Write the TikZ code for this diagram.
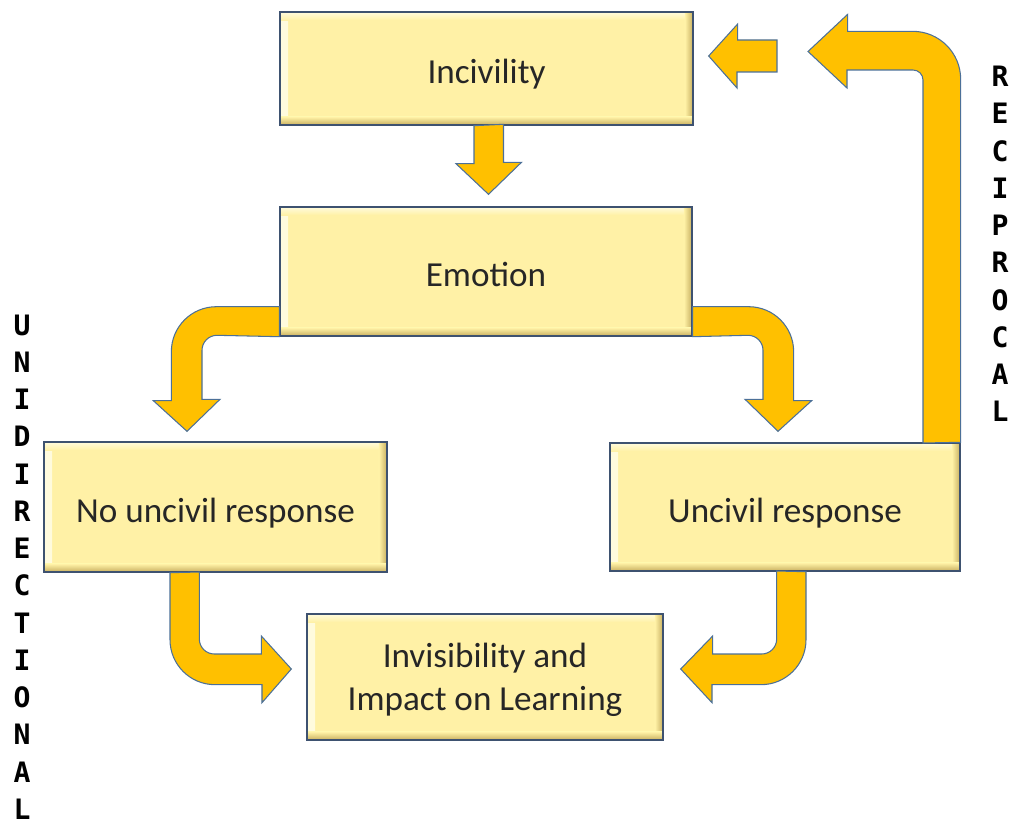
\documentclass[tikz,border=0pt]{standalone}
\usepackage{fontspec}
\setmainfont{Carlito}
\newfontfamily\letterfont{DejaVu Sans Mono}
\usetikzlibrary{calc}

\definecolor{boxfill}{RGB}{255,241,166}
\definecolor{boxlight}{RGB}{255,251,222}
\definecolor{boxdark}{RGB}{200,176,96}
\definecolor{boxedge}{RGB}{62,82,112}
\definecolor{arrowgold}{RGB}{255,192,0}
\definecolor{arrowedge}{RGB}{76,112,152}

\begin{document}
\begin{tikzpicture}[
    x=0.02cm, y=-0.02cm,
    stage/.style={rectangle, draw=boxedge, fill=boxfill, line width=0.8pt, inner sep=0pt,
        align=center, text=black!85, font=\fontsize{20}{24}\selectfont,
        text height=17.2pt, text depth=0pt,
        path picture={
            \shade[left color=boxlight, right color=boxfill] (path picture bounding box.north west) rectangle ($(path picture bounding box.south west)+(0.16cm,0)$);
            \shade[top color=boxlight, bottom color=boxfill] (path picture bounding box.north west) rectangle ($(path picture bounding box.north east)+(0,-0.16cm)$);
            \shade[left color=boxfill, right color=boxdark] ($(path picture bounding box.north east)+(-0.16cm,0)$) rectangle (path picture bounding box.south east);
            \shade[top color=boxfill, bottom color=boxdark] ($(path picture bounding box.south west)+(0,0.16cm)$) rectangle (path picture bounding box.south east);
        }},
    flow/.style={fill=arrowgold, draw=arrowedge, line width=0.6pt, line join=miter},
    sidelabel/.style={align=center, font=\letterfont\bfseries\fontsize{16}{21.2}\selectfont}
]
\useasboundingbox (0,0) rectangle (1017,834);

\node[stage, minimum width=8.26cm, minimum height=2.26cm] (inc) at (486.5,68.5) {Incivility};
\node[stage, minimum width=8.24cm, minimum height=2.58cm] (emo) at (486,271.5) {Emotion};
\node[stage, minimum width=6.86cm, minimum height=2.6cm] (noun) at (215.5,507) {No uncivil response};
\node[stage, minimum width=7.0cm, minimum height=2.56cm] (unciv) at (785,507) {Uncivil response};
\node[stage, minimum width=7.12cm, minimum height=2.52cm, text height=37.6pt] (invis) at (485,677) {Invisibility and\\Impact on Learning};

\node[sidelabel] (unidir) at (22,567) {U\\N\\I\\D\\I\\R\\E\\C\\T\\I\\O\\N\\A\\L};
\node[sidelabel] (recip) at (1000,244) {R\\E\\C\\I\\P\\R\\O\\C\\A\\L};

\coordinate (fb) at (777,40);

% straight down
\draw[flow] ($(inc.south)+(-12.5,0)$) -- ++(0,38) -- ++(-18,0) -- ($(emo.north)+(2.5,-12)$)
    -- ++(33,-32) -- ++(-18,0) -- ++(0,-38) -- cycle;

% split left and right
\draw[flow] ($(emo.south west)+(0,-30)$) -- ++(-63,0) arc[start angle=90, end angle=180, radius=0.9cm]
    -- ++(0,49) -- ++(-18,0) -- ($(noun.north)+(-28.5,-10)$) -- ++(33,-32) -- ++(-18,0)
    -- ++(0,-49) arc[start angle=180, end angle=90, radius=0.3cm] -- (emo.south west) -- cycle;
\draw[flow] ($(emo.south east)+(0,-30)$) -- ++(56,0) arc[start angle=90, end angle=0, radius=0.9cm]
    -- ++(0,49) -- ++(18,0) -- ($(unciv.north)+(-7,-11)$) -- ++(-33,-32) -- ++(18,0)
    -- ++(0,-49) arc[start angle=0, end angle=90, radius=0.3cm] -- (emo.south east) -- cycle;

% into invisibility
\draw[flow] ($(noun.south)+(-45.5,0)$) -- ++(0,67) arc[start angle=180, end angle=270, radius=0.9cm]
    -- ++(47,0) -- ++(0,18) -- ($(invis.west)+(-15,-8)$) -- ++(-30,-33) -- ++(0,18)
    -- ++(-47,0) arc[start angle=270, end angle=180, radius=0.3cm] -- ++(0,-67) -- cycle;
\draw[flow] ($(unciv.south)+(21,0)$) -- ++(0,68) arc[start angle=0, end angle=-90, radius=0.9cm]
    -- ++(-49,0) -- ++(0,18) -- ($(invis.east)+(17,-8)$) -- ++(32,-33) -- ++(0,18)
    -- ++(49,0) arc[start angle=-90, end angle=0, radius=0.3cm] -- ++(0,-68) -- cycle;

% reciprocal loop
\draw[flow] (unciv.north east) -- ++(0,-363) arc[start angle=0, end angle=90, radius=0.96cm]
    -- ++(-65,0) -- ++(0,-17) -- ($(fb)+(31,11.5)$) -- ++(39,36.5) -- ++(0,-18)
    -- ++(66,0) arc[start angle=90, end angle=0, radius=0.2cm] -- ++(0,363) -- cycle;
\draw[flow] (fb) -- ++(0,32) -- ++(-40,0) -- ++(0,16) -- ($(inc.east)+(15,-12.5)$)
    -- ++(29,-32) -- ++(0,16) -- cycle;

\end{tikzpicture}
\end{document}
